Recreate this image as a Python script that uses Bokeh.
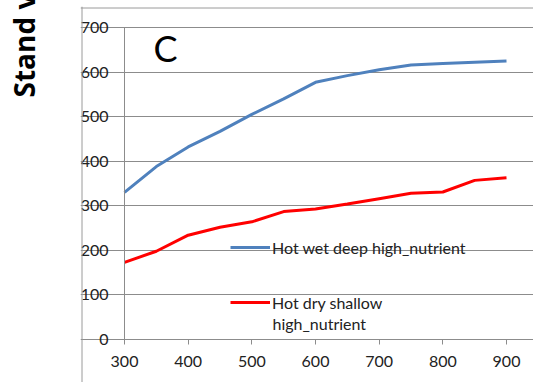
import math
from bokeh.plotting import figure
from bokeh.models import Label, Span, Legend, LegendItem, FixedTicker, Range1d, Title
from bokeh.embed import file_html
from bokeh.resources import INLINE

x_vals = [300, 350, 400, 450, 500, 550, 600, 650, 700, 750, 800, 850, 900]
hot_wet = [330, 388, 432, 467, 505, 540, 577, 592, 605, 616, 619, 622, 625]
hot_dry = [173, 198, 234, 252, 264, 287, 293, 304, 316, 328, 331, 357, 363]
y_ticks = [0, 100, 200, 300, 400, 500, 600, 700]
x_ticks = [300, 400, 500, 600, 700, 800, 900]

FONT = "Lato"
W, H = 533, 382
FL, FT = 80, 6  # frame left / top in canvas pixels
# pixel geometry of the data area
PX0, PX1 = 124, 506   # x=300 .. x=900
PY0, PY1 = 339, 27    # y=0 .. y=700
kx = (PX1 - PX0) / (x_ticks[-1] - x_ticks[0])
ky = (PY0 - PY1) / (y_ticks[-1] - y_ticks[0])
x_start = x_ticks[0] - (PX0 - FL) / kx
x_end = x_ticks[-1] + (W - PX1) / kx
y_end = y_ticks[-1] + (PY1 - FT) / ky
y_start = y_ticks[0] - (H - PY0) / ky

p = figure(width=W, height=H, output_backend="svg", toolbar_location=None,
           title_location=None,
           x_range=Range1d(x_start, x_end), y_range=Range1d(y_start, y_end),
           min_border_left=FL, min_border_right=0, min_border_top=FT, min_border_bottom=0)
p.title.visible = False
p.title.standoff = 0
p.outline_line_color = None
p.background_fill_color = "white"
p.border_fill_color = "white"

r1 = p.line(x_vals, hot_wet, line_color="#4f81bd", line_width=3)
r2 = p.line(x_vals, hot_dry, line_color="#ff0000", line_width=3)

p.xgrid.visible = False
p.ygrid.grid_line_color = "#8c8c8c"
p.ygrid.grid_line_width = 1
p.ygrid.bounds = (x_ticks[0], x_ticks[-1])
p.yaxis.ticker = FixedTicker(ticks=y_ticks)
p.xaxis.ticker = FixedTicker(ticks=x_ticks)
p.yaxis.fixed_location = x_ticks[0]
p.xaxis.fixed_location = y_ticks[0]
p.yaxis.bounds = (y_ticks[0], y_ticks[-1])
p.xaxis.bounds = (x_ticks[0], x_ticks[-1])
for ax in (p.xaxis, p.yaxis):
    ax.axis_line_color = "#8c8c8c"
    ax.major_tick_line_color = "#8c8c8c"
    ax.minor_tick_line_color = None
    ax.minor_tick_out = 0
    ax.minor_tick_in = 0
    ax.major_tick_out = 5
    ax.major_tick_in = 0
    ax.major_label_text_font = FONT
    ax.major_label_text_font_size = "16px"
    ax.major_label_text_color = "#222222"
p.yaxis.major_label_standoff = 11
p.xaxis.major_label_standoff = 11

legend = Legend(items=[LegendItem(label="Hot wet deep high_nutrient", renderers=[r1]),
                       LegendItem(label="Hot dry shallow", renderers=[r2])],
                location=(150, 70), orientation="vertical",
                background_fill_alpha=0, border_line_color=None,
                label_text_font=FONT, label_text_font_size="16px", label_text_color="#222222",
                glyph_width=40, glyph_height=20, label_standoff=2, spacing=35, padding=0, margin=0)
p.add_layout(legend, "center")
p.add_layout(Label(x=192, y=59, x_units="screen", y_units="screen", text="high_nutrient",
                   text_font=FONT, text_font_size="16px", text_color="#222222",
                   text_baseline="middle"))

p.add_layout(Label(x=73, y=335, x_units="screen", y_units="screen", text="C",
                   text_font=FONT, text_font_size="36px", text_color="black",
                   text_baseline="alphabetic"))

# outer chart-area border (left and top edges of the chart box)
BX, BY = 81.5, 7.5
p.add_layout(Span(location=x_ticks[0] - (PX0 - BX) / kx, dimension="height",
                  line_color="#9a9a9a", line_width=1))
p.add_layout(Span(location=y_ticks[-1] + (PY1 - BY) / ky, dimension="width",
                  line_color="#9a9a9a", line_width=1))

spacer = Title(text=" ", text_font_size="10px", standoff=25)
p.add_layout(spacer, "left")
p.add_layout(Title(text="Stand volume", align="left", vertical_align="bottom",
                   offset=285, standoff=0,
                   text_font="Open Sans", text_font_style="bold",
                   text_font_size="28px", text_color="black"), "left")

open("out.html", "w").write(file_html(p, INLINE))
